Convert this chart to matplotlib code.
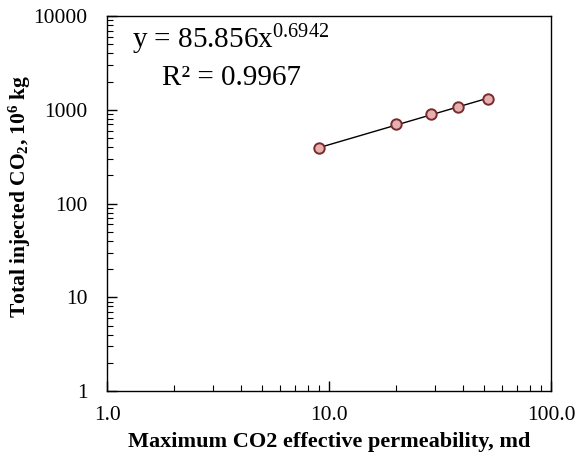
import numpy as np
import matplotlib
matplotlib.use("Agg")
import matplotlib.pyplot as plt
from matplotlib.ticker import FixedLocator, LogLocator, NullFormatter

plt.rcParams['font.family'] = ['Liberation Serif', 'DejaVu Serif']
plt.rcParams['mathtext.default'] = 'regular'

# data
perm = [9.0, 20.0, 28.8, 38.0, 52.0]
co2 = [390, 700, 900, 1080, 1290]
fit_a = 85.856
fit_b = 0.6942
x_ticks = [1, 10, 100]
x_labels = ['1.0', '10.0', '100.0']
y_ticks = [1, 10, 100, 1000, 10000]
y_labels = ['1', '10', '100', '1000', '10000']

fig = plt.figure(figsize=(5.79, 4.59), dpi=100)
ax = fig.add_axes([0.185, 0.148, 0.767, 0.817])

# power-law trend line
xf = np.array([min(perm), max(perm)])
ax.plot(xf, fit_a * xf ** fit_b, color='black', lw=1, zorder=2)
ax.plot(perm, co2, 'o', ms=7.5, mfc='#e6b0b0', mec='#7a2a2a', mew=1.4, zorder=3)

ax.set_xscale('log')
ax.set_yscale('log')
ax.set_xlim(1, 100)
ax.set_ylim(1, 10000)
ax.xaxis.set_major_locator(FixedLocator(x_ticks))
ax.set_xticklabels(x_labels)
ax.yaxis.set_major_locator(FixedLocator(y_ticks))
ax.set_yticklabels(y_labels)
ax.xaxis.set_minor_locator(LogLocator(base=10, subs=np.arange(2, 10)))
ax.yaxis.set_minor_locator(LogLocator(base=10, subs=np.arange(2, 10)))
ax.xaxis.set_minor_formatter(NullFormatter())
ax.yaxis.set_minor_formatter(NullFormatter())
ax.tick_params(which='major', direction='in', length=7, width=1, labelsize=15.5)
ax.tick_params(axis='x', which='major', pad=11)
ax.tick_params(axis='y', which='major', pad=14)
ax.tick_params(which='minor', direction='in', length=4, width=0.8)

for s in ax.spines.values():
    s.set_linewidth(1)

ax.set_xlabel('Maximum CO2 effective permeability, md', fontsize=16,
              fontweight='bold')
ax.xaxis.set_label_coords(0.5, -0.108)
ax.set_ylabel('Total injected CO$_2$, 10$^6$ kg', fontsize=15.5,
              fontweight='bold')
ax.yaxis.set_label_coords(-0.167, 0.52)

ax.text(0.279, 0.915, 'y = 85.856x$^{0.6942}$', transform=ax.transAxes,
        ha='center', va='baseline', fontsize=21)
ax.text(0.279, 0.816, 'R\u00b2 = 0.9967', transform=ax.transAxes,
        ha='center', va='baseline', fontsize=21)

fig.savefig('out.png', dpi=100)
